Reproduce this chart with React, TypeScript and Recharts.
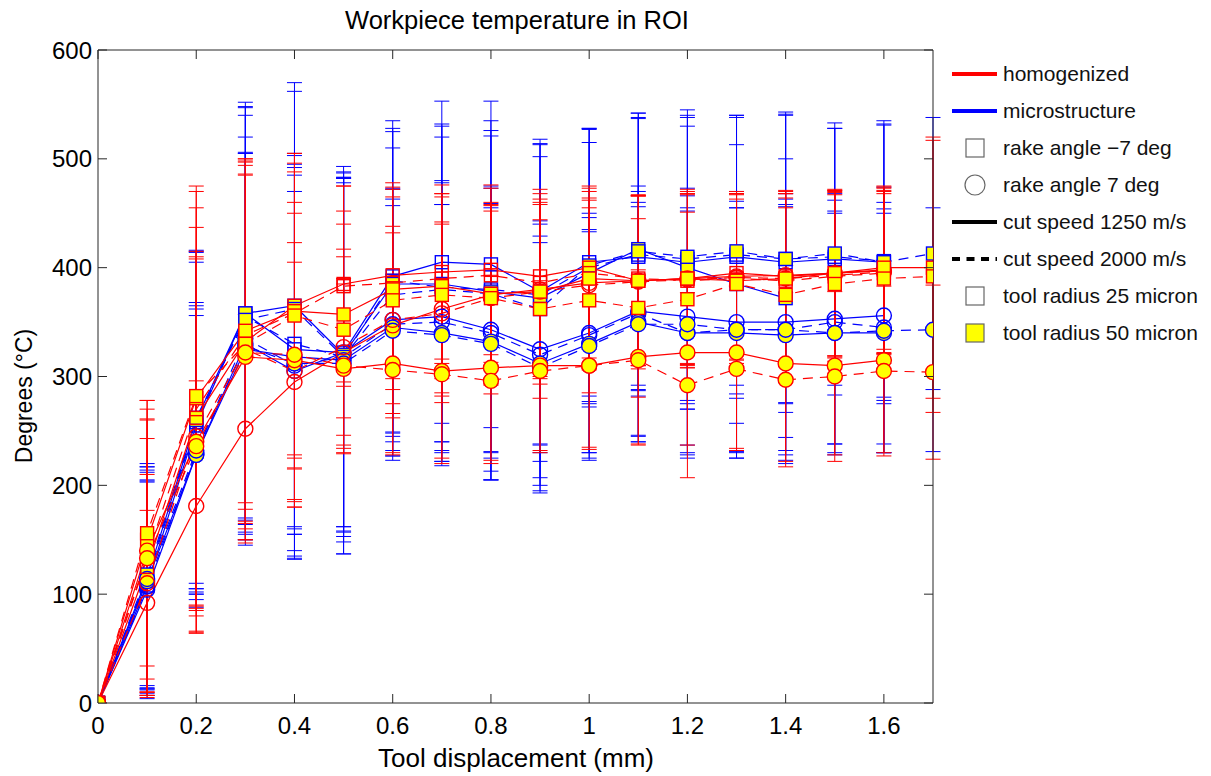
import React from "react";
import { LineChart, Line, XAxis, YAxis, ErrorBar } from "recharts";

const RED = "#ff0000";
const BLUE = "#0000ff";
const YELLOW = "#ffff00";

const xValues = [0, 0.1, 0.2, 0.3, 0.4, 0.5, 0.6, 0.7, 0.8, 0.9, 1.0, 1.1, 1.2, 1.3, 1.4, 1.5, 1.6, 1.7];
const xTicks = [0, 0.2, 0.4, 0.6, 0.8, 1, 1.2, 1.4, 1.6];
const yTicks = [0, 100, 200, 300, 400, 500, 600];

// homogenized (red)
const homSq1250r25 = [0, 125, 262, 332, 365, 385, 393, 396, 398, 392, 400, 388, 390, 395, 392, 395, 398, null];
const homSq2000r25 = [0, 135, 270, 338, 358, 383, 386, 390, 393, 386, 395, 390, 388, 390, 388, 392, 395, null];
const homSq1250r50 = [0, 150, 280, 342, 360, 357, 380, 383, 376, 378, 390, 388, 390, 388, 390, 395, 400, 400];
const homSq2000r50 = [0, 156, 282, 330, 356, 343, 370, 375, 372, 362, 370, 363, 371, 385, 375, 385, 390, 392];
const homCi1250r25 = [0, 92, 181, 252, 295, 322, 347, 362, 375, 380, 386, 388, 390, 392, 393, 395, 397, null];
const homCi2000r25 = [0, 110, 245, 325, 305, 327, 352, 358, 372, 378, 384, 387, 389, 391, 390, 393, 396, null];
const homCi1250r50 = [0, 140, 240, 318, 315, 307, 312, 305, 308, 310, 310, 318, 322, 322, 312, 310, 315, null];
const homCi2000r50 = [0, 133, 236, 322, 320, 310, 306, 302, 296, 305, 310, 315, 292, 307, 297, 300, 305, 304];

const homSq1250r25Err = [0, 118, 175, 165, 140, 90, 85, 80, 78, 80, 75, 78, 78, 75, 78, 76, 76, null];
const homSq2000r25Err = [0, 125, 185, 160, 130, 92, 88, 78, 80, 82, 78, 76, 80, 78, 76, 78, 75, null];
const homSq1250r50Err = [0, 128, 190, 158, 145, 95, 92, 85, 82, 85, 80, 78, 82, 80, 78, 76, 75, 120];
const homSq2000r50Err = [0, 122, 193, 170, 140, 97, 95, 90, 88, 82, 85, 82, 80, 78, 80, 82, 78, 125];
const homCi1250r25Err = [0, 85, 115, 105, 110, 88, 85, 80, 82, 80, 78, 78, 80, 76, 78, 77, 76, null];
const homCi2000r25Err = [0, 100, 165, 160, 118, 90, 86, 82, 80, 80, 78, 80, 78, 76, 78, 76, 75, null];
const homCi1250r50Err = [0, 130, 175, 168, 135, 78, 82, 80, 85, 78, 75, 80, 85, 88, 90, 82, 85, null];
const homCi2000r50Err = [0, 128, 172, 172, 140, 80, 78, 82, 76, 75, 77, 78, 85, 75, 80, 78, 78, 80];

// microstructure (blue)
const micSq1250r25 = [0, 108, 255, 358, 325, 322, 392, 405, 403, 378, 405, 410, 405, 410, 405, 408, 405, null];
const micSq2000r25 = [0, 112, 258, 355, 330, 318, 388, 382, 380, 375, 400, 412, 408, 412, 408, 410, 406, null];
const micSq1250r50 = [0, 115, 260, 358, 365, 320, 385, 385, 378, 372, 395, 417, 400, 385, 372, null, null, null];
const micSq2000r50 = [0, 118, 262, 352, 362, 318, 375, 380, 376, 362, 402, 415, 410, 415, 408, 413, 405, 413];
const micCi1250r25 = [0, 104, 228, 330, 305, 322, 352, 355, 343, 325, 340, 360, 355, 350, 350, 353, 356, null];
const micCi2000r25 = [0, 107, 230, 335, 310, 318, 348, 350, 340, 320, 338, 358, 340, 343, 343, 350, 345, null];
const micCi1250r50 = [0, 112, 228, 325, 318, 315, 345, 340, 332, 312, 330, 350, 340, 340, 338, 340, 340, null];
const micCi2000r50 = [0, 114, 232, 328, 312, 312, 342, 338, 330, 308, 328, 348, 348, 343, 343, 340, 342, 343];

const micSq1250r25Err = [0, 95, 150, 194, 170, 160, 143, 148, 150, 140, 123, 128, 135, 130, 138, 125, 130, null];
const micSq2000r25Err = [0, 100, 158, 185, 175, 165, 140, 150, 155, 138, 128, 125, 130, 128, 132, 118, 125, null];
const micSq1250r50Err = [0, 102, 155, 190, 205, 163, 140, 145, 148, 142, 120, 125, 130, 128, 128, null, null, null];
const micSq2000r50Err = [0, 102, 152, 195, 200, 160, 135, 140, 145, 140, 125, 127, 135, 123, 133, 115, 127, 125];
const micCi1250r25Err = [0, 100, 140, 175, 165, 160, 120, 125, 130, 118, 110, 115, 118, 120, 118, 115, 118, null];
const micCi2000r25Err = [0, 98, 135, 185, 175, 170, 125, 128, 135, 120, 108, 112, 115, 118, 120, 112, 115, null];
const micCi1250r50Err = [0, 105, 128, 180, 185, 178, 118, 118, 127, 117, 105, 110, 112, 115, 118, 112, 110, null];
const micCi2000r50Err = [0, 100, 130, 178, 180, 175, 115, 120, 125, 115, 105, 108, 118, 112, 115, 110, 112, 112];

type Series = {
  key: string;
  values: (number | null)[];
  errors: (number | null)[];
  color: string;
  dashed: boolean;
  shape: "square" | "circle";
  filled: boolean;
};

// blue first so the red ones sit on top
const seriesList: Series[] = [
  { key: "micSq1250r25", values: micSq1250r25, errors: micSq1250r25Err, color: BLUE, dashed: false, shape: "square", filled: false },
  { key: "micSq2000r25", values: micSq2000r25, errors: micSq2000r25Err, color: BLUE, dashed: true, shape: "square", filled: false },
  { key: "micCi1250r25", values: micCi1250r25, errors: micCi1250r25Err, color: BLUE, dashed: false, shape: "circle", filled: false },
  { key: "micCi2000r25", values: micCi2000r25, errors: micCi2000r25Err, color: BLUE, dashed: true, shape: "circle", filled: false },
  { key: "micSq1250r50", values: micSq1250r50, errors: micSq1250r50Err, color: BLUE, dashed: false, shape: "square", filled: true },
  { key: "micSq2000r50", values: micSq2000r50, errors: micSq2000r50Err, color: BLUE, dashed: true, shape: "square", filled: true },
  { key: "micCi1250r50", values: micCi1250r50, errors: micCi1250r50Err, color: BLUE, dashed: false, shape: "circle", filled: true },
  { key: "micCi2000r50", values: micCi2000r50, errors: micCi2000r50Err, color: BLUE, dashed: true, shape: "circle", filled: true },
  { key: "homSq1250r25", values: homSq1250r25, errors: homSq1250r25Err, color: RED, dashed: false, shape: "square", filled: false },
  { key: "homSq2000r25", values: homSq2000r25, errors: homSq2000r25Err, color: RED, dashed: true, shape: "square", filled: false },
  { key: "homCi1250r25", values: homCi1250r25, errors: homCi1250r25Err, color: RED, dashed: false, shape: "circle", filled: false },
  { key: "homCi2000r25", values: homCi2000r25, errors: homCi2000r25Err, color: RED, dashed: true, shape: "circle", filled: false },
  { key: "homSq1250r50", values: homSq1250r50, errors: homSq1250r50Err, color: RED, dashed: false, shape: "square", filled: true },
  { key: "homSq2000r50", values: homSq2000r50, errors: homSq2000r50Err, color: RED, dashed: true, shape: "square", filled: true },
  { key: "homCi1250r50", values: homCi1250r50, errors: homCi1250r50Err, color: RED, dashed: false, shape: "circle", filled: true },
  { key: "homCi2000r50", values: homCi2000r50, errors: homCi2000r50Err, color: RED, dashed: true, shape: "circle", filled: true },
];

const data = xValues.map((x, i) => {
  const row: Record<string, number | null> = { x };
  seriesList.forEach((s) => {
    row[s.key] = s.values[i];
    row[s.key + "Err"] = s.errors[i];
  });
  return row;
});

const FONT = "'Liberation Sans', Arial, sans-serif";
const AXIS = "#262626";
const TICK_LEN = 9;

const fmtX = (v: number) => String(Number(v.toFixed(1)));

const makeDot = (s: Series) => (p: any) => {
  const { cx, cy, index, value } = p;
  if (cx == null || cy == null || value == null || Number.isNaN(cy)) return <g key={`${s.key}-${index}`} />;
  const fill = s.filled ? YELLOW : "none";
  if (s.shape === "square") {
    return <rect key={`${s.key}-${index}`} x={cx - 6.5} y={cy - 6.5} width={13} height={13} fill={fill} stroke={s.color} strokeWidth={1.4} />;
  }
  return <circle key={`${s.key}-${index}`} cx={cx} cy={cy} r={7.5} fill={fill} stroke={s.color} strokeWidth={1.4} />;
};

const BottomTick = (p: any) => (
  <g>
    <line x1={p.x} x2={p.x} y1={p.y - 14} y2={p.y - 14 - TICK_LEN} stroke={AXIS} />
    <text x={p.x} y={p.y} dy="0.71em" textAnchor="middle" fontSize={24} fontFamily={FONT} fill="#000">
      {fmtX(p.payload.value)}
    </text>
  </g>
);

const TopTick = (p: any) => <line x1={p.x} x2={p.x} y1={p.y} y2={p.y + TICK_LEN} stroke={AXIS} />;

const LeftTick = (p: any) => (
  <g>
    <line x1={p.x + 6} x2={p.x + 6 + TICK_LEN} y1={p.y} y2={p.y} stroke={AXIS} />
    <text x={p.x} y={p.y} dy="0.36em" textAnchor="end" fontSize={24} fontFamily={FONT} fill="#000">
      {p.payload.value}
    </text>
  </g>
);

const RightTick = (p: any) => <line x1={p.x} x2={p.x - TICK_LEN} y1={p.y} y2={p.y} stroke={AXIS} />;

const legendRows = [
  { label: "homogenized", kind: "line", color: RED },
  { label: "microstructure", kind: "line", color: BLUE },
  { label: "rake angle \u22127 deg", kind: "square", color: "none" },
  { label: "rake angle 7 deg", kind: "circle", color: "none" },
  { label: "cut speed 1250 m/s", kind: "line", color: "#000" },
  { label: "cut speed 2000 m/s", kind: "dash", color: "#000" },
  { label: "tool radius 25 micron", kind: "square", color: "none" },
  { label: "tool radius 50 micron", kind: "square", color: YELLOW },
];

const ChartLegend = () => (
  <svg width={262} height={300} style={{ position: "absolute", left: 937, top: 46 }}>
    {legendRows.map((r, i) => {
      const y = 20 + i * 37;
      return (
        <g key={r.label}>
          {r.kind === "line" && <line x1={7} x2={52} y1={y} y2={y} stroke={r.color} strokeWidth={4} />}
          {r.kind === "dash" && <line x1={7} x2={52} y1={y} y2={y} stroke={r.color} strokeWidth={4} strokeDasharray="8 6.5" />}
          {r.kind === "square" && <rect x={21} y={y - 9} width={18} height={18} fill={r.color} stroke="#666" strokeWidth={1.2} />}
          {r.kind === "circle" && <circle cx={30} cy={y} r={10} fill="none" stroke="#666" strokeWidth={1.2} />}
          <text x={58} y={y} dy="0.35em" fontSize={21} fontFamily={FONT} fill="#111">
            {r.label}
          </text>
        </g>
      );
    })}
  </svg>
);

export default function App() {
  return (
    <div style={{ position: "relative", width: 1195, height: 768, fontFamily: FONT, background: "#fff" }}>
      <div style={{ position: "absolute", left: 209, top: -3, width: 600, textAlign: "center", fontSize: 25.5, lineHeight: "30px" }}>
        Workpiece temperature in ROI
      </div>
      <LineChart width={1195} height={760} data={data} margin={{ top: 32, right: 260, bottom: 0, left: 30 }}>
        <XAxis
          dataKey="x"
          type="number"
          domain={[0, 1.7]}
          ticks={xTicks}
          height={65}
          tickSize={0}
          tickMargin={14}
          tickLine={false}
          axisLine={{ stroke: AXIS }}
          tick={BottomTick}
          allowDataOverflow
        />
        <XAxis
          xAxisId="top"
          orientation="top"
          dataKey="x"
          type="number"
          domain={[0, 1.7]}
          ticks={xTicks}
          height={10}
          tickSize={0}
          tickMargin={0}
          tickLine={false}
          axisLine={{ stroke: AXIS }}
          tick={TopTick}
          allowDataOverflow
        />
        <YAxis
          type="number"
          domain={[0, 600]}
          ticks={yTicks}
          width={60}
          tickSize={0}
          tickMargin={6}
          tickLine={false}
          axisLine={{ stroke: AXIS }}
          tick={LeftTick}
          allowDataOverflow
        />
        <YAxis
          yAxisId="right"
          orientation="right"
          type="number"
          domain={[0, 600]}
          ticks={yTicks}
          width={10}
          tickSize={0}
          tickMargin={0}
          tickLine={false}
          axisLine={{ stroke: AXIS }}
          tick={RightTick}
          allowDataOverflow
        />
        {seriesList.map((s) => (
          <Line
            key={s.key}
            dataKey={s.key}
            type="linear"
            stroke={s.color}
            strokeWidth={1.2}
            strokeDasharray={s.dashed ? "10 7" : undefined}
            dot={makeDot(s)}
            activeDot={false}
            isAnimationActive={false}
            connectNulls={false}
          >
            <ErrorBar dataKey={s.key + "Err"} width={7.5} stroke={s.color} strokeWidth={1} direction="y" isAnimationActive={false} />
          </Line>
        ))}
      </LineChart>
      <div
        style={{
          position: "absolute",
          left: 16 - 100,
          top: 388 - 15,
          width: 200,
          textAlign: "center",
          fontSize: 23,
          lineHeight: "30px",
          transform: "rotate(-90deg)",
        }}
      >
        Degrees (°C)
      </div>
      <div style={{ position: "absolute", left: 208, top: 735, width: 600, textAlign: "center", fontSize: 26, lineHeight: "30px" }}>
        Tool displacement (mm)
      </div>
      <ChartLegend />
    </div>
  );
}
